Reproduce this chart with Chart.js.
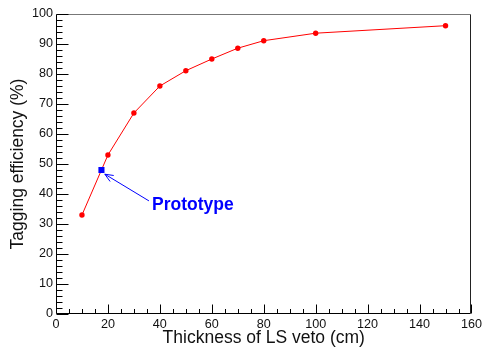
<!DOCTYPE html>
<html>
<head>
<meta charset="utf-8">
<script src="https://cdn.jsdelivr.net/npm/chart.js@4/dist/chart.umd.min.js"></script>
<style>
  html,body{margin:0;padding:0;background:#fff}
  #wrap{width:485px;height:348px}
</style>
</head>
<body>
<div id="wrap"><canvas id="c" width="485" height="348"></canvas></div>
<script>
// LS veto thickness (cm) vs tagging efficiency (%)
const thickness  = [10, 20, 30, 40, 50, 60, 70, 80, 100, 150];
const efficiency = [33, 53, 67, 76, 81.1, 85, 88.6, 91.1, 93.6, 96.1];

// prototype point
const protoX = [17.5];
const protoY = [48];

// annotation (data units): arrow tail, arrow head, label anchor
const arrowTail = [35.8, 37.7];
const arrowHead = [18.8, 46.6];
const labelAt   = [37.0, 36.4];
const labelText = 'Prototype';

const xTicks = [0, 20, 40, 60, 80, 100, 120, 140, 160];
const yTicks = [0, 10, 20, 30, 40, 50, 60, 70, 80, 90, 100];
const xMinorStep = 5;
const yMinorStep = 2;

const FONT = '"Liberation Sans", Arial, Helvetica, sans-serif';

// ROOT-like frame with inward ticks, plus arrow + label
const rootFrame = {
  id: 'rootFrame',
  afterDraw(chart){
    const {ctx, chartArea:a, scales:{x, y}} = chart;
    const L = Math.round(a.left) + 0.5, R = Math.round(a.right) - 0.5;
    const T = Math.round(a.top) + 0.5, B = Math.round(a.bottom) - 0.5;
    ctx.save();
    ctx.lineWidth = 1;
    // top + right frame
    ctx.strokeStyle = '#777';
    ctx.beginPath(); ctx.moveTo(L, T); ctx.lineTo(R, T); ctx.stroke();
    ctx.strokeStyle = '#222';
    ctx.beginPath(); ctx.moveTo(R, T); ctx.lineTo(R, B); ctx.stroke();
    // axes
    ctx.strokeStyle = '#000';
    ctx.beginPath(); ctx.moveTo(L, T); ctx.lineTo(L, B); ctx.lineTo(R, B); ctx.stroke();

    // x ticks
    ctx.beginPath();
    for(let v = xTicks[0]; v <= xTicks[xTicks.length-1]; v += xMinorStep){
      const px = Math.round(x.getPixelForValue(v)) + 0.5;
      const len = xTicks.includes(v) ? 9 : 4.5;
      ctx.moveTo(px, B); ctx.lineTo(px, B - len);
    }
    // y ticks
    for(let v = yTicks[0]; v <= yTicks[yTicks.length-1]; v += yMinorStep){
      const py = Math.round(y.getPixelForValue(v)) + 0.5;
      const len = yTicks.includes(v) ? 12 : 6;
      ctx.moveTo(L, py); ctx.lineTo(L + len, py);
    }
    ctx.stroke();

    // arrow
    const tx = x.getPixelForValue(arrowTail[0]), ty = y.getPixelForValue(arrowTail[1]);
    const hx = x.getPixelForValue(arrowHead[0]), hy = y.getPixelForValue(arrowHead[1]);
    const ang = Math.atan2(ty - hy, tx - hx);
    const hl = 9, spread = 0.4;
    ctx.strokeStyle = '#0000ff';
    ctx.beginPath();
    ctx.moveTo(tx, ty); ctx.lineTo(hx, hy);
    ctx.moveTo(hx + hl*Math.cos(ang - spread), hy + hl*Math.sin(ang - spread));
    ctx.lineTo(hx, hy);
    ctx.lineTo(hx + hl*Math.cos(ang + spread), hy + hl*Math.sin(ang + spread));
    ctx.stroke();

    // label
    ctx.fillStyle = '#0000ff';
    ctx.font = 'bold 17.5px ' + FONT;
    ctx.textAlign = 'left';
    ctx.textBaseline = 'middle';
    ctx.fillText(labelText, x.getPixelForValue(labelAt[0]), y.getPixelForValue(labelAt[1]));
    ctx.restore();
  }
};

new Chart(document.getElementById('c'), {
  type: 'scatter',
  data: {
    datasets: [
      {
        label: 'Prototype',
        data: protoX.map((v,i)=>({x:v, y:protoY[i]})),
        pointStyle: 'rect',
        pointRadius: 4.3,
        pointBorderWidth: 0,
        backgroundColor: '#0000ff',
        borderColor: '#0000ff',
        showLine: false,
        order: 0
      },
      {
        label: 'Tagging efficiency',
        data: thickness.map((v,i)=>({x:v, y:efficiency[i]})),
        showLine: true,
        borderColor: '#ff0000',
        backgroundColor: '#ff0000',
        borderWidth: 1,
        pointRadius: 2.7,
        pointBorderWidth: 0,
        order: 1
      }
    ]
  },
  options: {
    responsive: false,
    animation: false,
    devicePixelRatio: 1,
    layout: { padding: { top: 14, right: 10.5, left: 0, bottom: 0 } },
    plugins: { legend: { display:false }, tooltip: { enabled:false } },
    scales: {
      x: {
        type: 'linear', min: 0, max: 160,
        afterBuildTicks: s => { s.ticks = xTicks.map(v=>({value:v})); },
        afterFit: s => { s.height = 34; },
        grid: { display:false, drawTicks:false },
        border: { display:false },
        ticks: { padding: 3, maxRotation: 0, color:'#111', font:{ family: FONT, size: 12.6 } },
        title: { display:true, text:'Thickness of LS veto (cm)', color:'#111',
                 padding:{ top:0, bottom:0 }, font:{ family: FONT, size: 17.5, lineHeight: 1.1 } }
      },
      y: {
        type: 'linear', min: 0, max: 100,
        afterBuildTicks: s => { s.ticks = yTicks.map(v=>({value:v})); },
        afterFit: s => { s.width = 56; },
        grid: { display:false, drawTicks:false },
        border: { display:false },
        ticks: { padding: 3, color:'#111', font:{ family: FONT, size: 12.6 } },
        title: { display:true, text:'Tagging efficiency (%)', color:'#111',
                 padding:{ top:9, bottom:0 }, font:{ family: FONT, size: 17.5, lineHeight: 1.1 } }
      }
    }
  },
  plugins: [rootFrame]
});
</script>
</body>
</html>
